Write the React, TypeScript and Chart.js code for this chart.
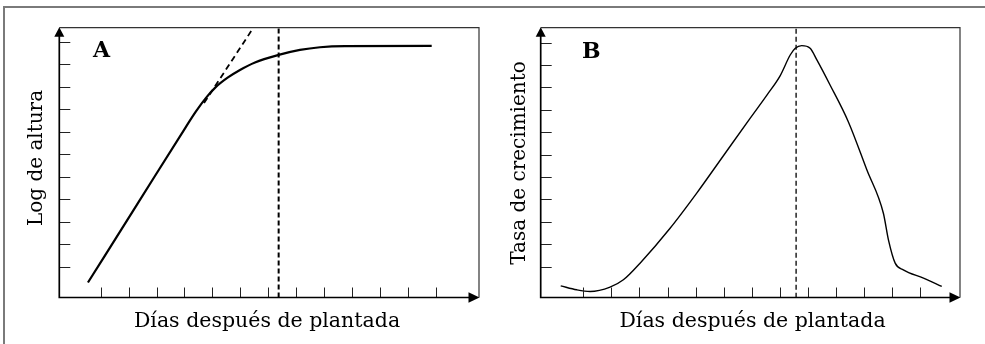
import React, { useEffect, useRef } from "react";
import { Chart, registerables } from "chart.js";

Chart.register(...registerables);

const FONT = '"DejaVu Serif", "Liberation Serif", serif';

// ---------- Panel A : Log de altura ----------
const A_X_TICKS = [0, 1, 2, 3, 4, 5, 6, 7, 8, 9, 10, 11, 12];
const A_Y_TICKS = [0, 1, 2, 3, 4, 5, 6, 7, 8, 9, 10];
const A_CURVE_X = [-0.455, 1.3, 3.053, 3.411, 3.769, 4.127, 4.556, 4.986, 5.523, 6.371, 7.133, 7.849, 8.744, 11.847];
const A_CURVE_Y = [-0.711, 2.75, 6.213, 6.898, 7.498, 7.987, 8.409, 8.742, 9.076, 9.409, 9.631, 9.751, 9.8, 9.809];
const A_TANGENT_X = [3.7, 5.43];
const A_TANGENT_Y = [7.27, 10.55];
const A_MARK_X = [6.37, 6.37];
const A_MARK_Y = [-1.38, 10.62];

// ---------- Panel B : Tasa de crecimiento ----------
const B_X_TICKS = [0, 1, 2, 3, 4, 5, 6, 7, 8, 9, 10, 11, 12];
const B_Y_TICKS = [0, 1, 2, 3, 4, 5, 6, 7, 8, 9, 10];
const B_CURVE_X = [-0.807, -0.236, 0.239, 0.951, 1.426, 2.02, 3.09, 4.04, 4.99, 5.94, 6.54, 7.01, 7.37, 7.55, 7.78, 8.08, 8.32, 8.79, 9.44, 10.1, 10.69, 10.87, 11.11, 11.4, 12.12, 12.77];
const B_CURVE_Y = [-0.862, -1.04, -1.115, -0.92, -0.594, 0.15, 1.71, 3.28, 4.95, 6.62, 7.66, 8.52, 9.45, 9.75, 9.87, 9.75, 9.23, 8.11, 6.47, 4.32, 2.38, 1.19, 0.15, -0.15, -0.52, -0.89];
const B_MARK_X = [7.58, 7.58];
const B_MARK_Y = [-1.39, 10.67];

const pts = (xs: number[], ys: number[]) => xs.map((x, i) => ({ x, y: ys[i] }));

const deco = {
  id: "deco",
  afterDraw(chart: any, _args: any, opts: any) {
    const { ctx, chartArea: ca } = chart;
    const xs = chart.scales.x;
    const ys = chart.scales.y;
    ctx.save();
    // frame top and right
    ctx.strokeStyle = "#333";
    ctx.lineWidth = 1.2;
    ctx.beginPath();
    ctx.moveTo(ca.left, ca.top);
    ctx.lineTo(ca.right, ca.top);
    ctx.lineTo(ca.right, ca.bottom);
    ctx.stroke();
    // ticks
    ctx.strokeStyle = "#222";
    ctx.lineWidth = 1;
    ctx.beginPath();
    for (const t of opts.xTicks) {
      const px = Math.round(xs.getPixelForValue(t)) + 0.5;
      ctx.moveTo(px, ca.bottom);
      ctx.lineTo(px, ca.bottom - 10);
    }
    for (const t of opts.yTicks) {
      const py = Math.round(ys.getPixelForValue(t)) + 0.5;
      ctx.moveTo(ca.left, py);
      ctx.lineTo(ca.left + 11, py);
    }
    ctx.stroke();
    // axes
    ctx.strokeStyle = "#000";
    ctx.lineWidth = 1.7;
    ctx.beginPath();
    ctx.moveTo(ca.left, ca.top + 6);
    ctx.lineTo(ca.left, ca.bottom);
    ctx.lineTo(ca.right - 6, ca.bottom);
    ctx.stroke();
    // arrows
    ctx.fillStyle = "#000";
    ctx.beginPath();
    ctx.moveTo(ca.left, ca.top - 0.5);
    ctx.lineTo(ca.left - 5, ca.top + 9);
    ctx.lineTo(ca.left + 5, ca.top + 9);
    ctx.closePath();
    ctx.fill();
    ctx.beginPath();
    ctx.moveTo(ca.right + 0.5, ca.bottom);
    ctx.lineTo(ca.right - 10.5, ca.bottom - 5.3);
    ctx.lineTo(ca.right - 10.5, ca.bottom + 5.3);
    ctx.closePath();
    ctx.fill();
    // panel letter
    ctx.fillStyle = "#000";
    ctx.textAlign = "left";
    ctx.textBaseline = "alphabetic";
    ctx.font = `bold 22px ${FONT}`;
    ctx.fillText(opts.letter, opts.letterX, opts.letterY);
    // x title
    ctx.font = `20.5px ${FONT}`;
    ctx.textAlign = "center";
    ctx.fillText(opts.xTitle, opts.xTitleX, opts.xTitleY);
    // y title
    ctx.font = `20px ${FONT}`;
    ctx.translate(opts.yTitleX, opts.yTitleY);
    ctx.rotate(-Math.PI / 2);
    ctx.fillText(opts.yTitle, 0, 0);
    ctx.restore();
  },
};

function makeConfig(datasets: any[], range: any, pad: any, decoOpts: any): any {
  return {
    type: "line",
    data: { datasets },
    options: {
      responsive: false,
      animation: false,
      events: [],
      layout: { padding: pad },
      plugins: { legend: { display: false }, tooltip: { enabled: false }, deco: decoOpts },
      scales: {
        x: { type: "linear", min: range.x0, max: range.x1, display: false },
        y: { type: "linear", min: range.y0, max: range.y1, display: false },
      },
      elements: { point: { radius: 0 } },
    },
    plugins: [deco],
  };
}

function Panel({ config, width, left }: { config: any; width: number; left: number }) {
  const ref = useRef<HTMLCanvasElement>(null);
  useEffect(() => {
    const chart = new Chart(ref.current as HTMLCanvasElement, config);
    return () => chart.destroy();
  }, []);
  return (
    <canvas
      ref={ref}
      width={width}
      height={344}
      style={{ position: "absolute", left, top: 0, width, height: 344 }}
    />
  );
}

const configA = makeConfig(
  [
    {
      data: pts(A_CURVE_X, A_CURVE_Y),
      borderColor: "#000",
      borderWidth: 2.2,
      cubicInterpolationMode: "monotone",
      clip: false,
    },
    { data: pts(A_TANGENT_X, A_TANGENT_Y), borderColor: "#000", borderWidth: 1.8, borderDash: [6, 4], clip: false },
    { data: pts(A_MARK_X, A_MARK_Y), borderColor: "#000", borderWidth: 2, borderDash: [5, 3], clip: false },
  ],
  { x0: -1.48, x1: 13.54, y0: -1.378, y1: 10.62 },
  { left: 59.3, top: 27.7, right: 11, bottom: 46.5 },
  {
    letter: "A",
    letterX: 93,
    letterY: 57,
    xTitle: "Días después de plantada",
    xTitleX: 267,
    xTitleY: 326.5,
    yTitle: "Log de altura",
    yTitleX: 42,
    yTitleY: 158,
    xTicks: A_X_TICKS,
    yTicks: A_Y_TICKS,
  }
);

const configB = makeConfig(
  [
    {
      data: pts(B_CURVE_X, B_CURVE_Y),
      borderColor: "#000",
      borderWidth: 1.4,
      cubicInterpolationMode: "monotone",
      clip: false,
    },
    { data: pts(B_MARK_X, B_MARK_Y), borderColor: "#000", borderWidth: 1.3, borderDash: [5, 3], clip: false },
  ],
  { x0: -1.52, x1: 13.42, y0: -1.384, y1: 10.67 },
  { left: 50.7, top: 27.7, right: 25, bottom: 46.5 },
  {
    letter: "B",
    letterX: 92,
    letterY: 58,
    xTitle: "Días después de plantada",
    xTitleX: 262.5,
    xTitleY: 326.5,
    yTitle: "Tasa de crecimiento",
    yTitleX: 35,
    yTitleY: 163,
    xTicks: B_X_TICKS,
    yTicks: B_Y_TICKS,
  }
);

export default function App() {
  return (
    <div
      style={{
        position: "absolute",
        left: 0,
        top: 0,
        width: 985,
        height: 344,
        overflow: "hidden",
        background: "#fff",
      }}
    >
      <div
        style={{
          position: "absolute",
          left: 3,
          top: 5.5,
          width: 1000,
          height: 400,
          borderLeft: "2px solid #7a7a7a",
          borderTop: "2px solid #7a7a7a",
        }}
      />
      <Panel config={configA} width={490} left={0} />
      <Panel config={configB} width={495} left={490} />
    </div>
  );
}
